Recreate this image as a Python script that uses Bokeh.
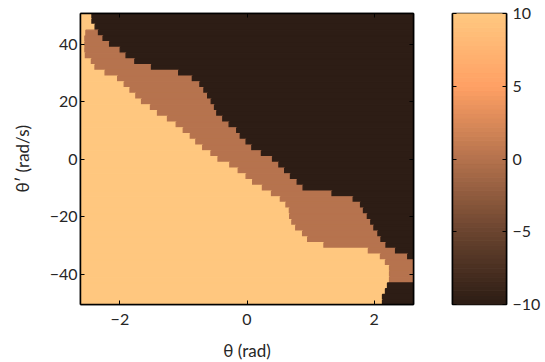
import numpy as np
from bokeh.plotting import figure
from bokeh.layouts import row
from bokeh.models import (ColumnDataSource, LinearColorMapper, LinearAxis,
                          FixedTicker, Range1d)
from bokeh.transform import transform
from bokeh.embed import file_html
from bokeh.resources import INLINE

# ---- data ----
theta_min, theta_max = -2.62, 2.62
omega_min, omega_max = -50.5, 50.8
row_step = 2.0

omega_rows = [50, 48, 46, 44, 42, 40, 38, 36, 34, 32, 30, 28, 26, 24, 22, 20,
              18, 16, 14, 12, 10, 8, 6, 4, 2, 0, -2, -4, -6, -8, -10, -12,
              -14, -16, -18, -20, -22, -24, -26, -28, -30, -32, -34, -36,
              -38, -40, -42, -44, -46, -48, -50]

# theta where the light (+10) region ends on each row
theta_light_end = [-2.44, -2.44, -2.39, -2.535, -2.551, -2.551, -2.551, -2.543,
                   -2.448, -2.392, -2.233, -2.035, -1.932, -1.841, -1.749, -1.659,
                   -1.519, -1.408, -1.251, -1.114, -1.003, -0.892, -0.805, -0.697,
                   -0.567, -0.456, -0.270, -0.138, -0.014, 0.089, 0.243, 0.386,
                   0.525, 0.613, 0.667, 0.671, 0.706, 0.767, 0.875, 0.954,
                   1.211, 1.910, 2.100, 2.179, 2.243, 2.243, 2.243, 2.211,
                   2.179, 2.132, 2.132]

# theta where the dark (-10) region starts on each row
theta_dark_start = [-2.44, -2.44, -2.39, -2.337, -2.265, -2.162, -1.995, -1.903,
                    -1.765, -1.503, -1.075, -0.860, -0.741, -0.678, -0.619, -0.563,
                    -0.511, -0.475, -0.381, -0.281, -0.162, -0.106, -0.014, 0.076,
                    0.227, 0.402, 0.502, 0.592, 0.684, 0.790, 0.883, 1.338,
                    1.671, 1.787, 1.833, 1.894, 1.948, 1.997, 2.060, 2.108,
                    2.187, 2.338, 2.529, 2.62, 2.62, 2.62, 2.62, 2.211,
                    2.179, 2.132, 2.132]

value_light, value_mid, value_dark = 10, 0, -10
cbar_low, cbar_high = -10, 10
cbar_ticks = [-10, -5, 0, 5, 10]
x_ticks = [-2, 0, 2]
y_ticks = [-40, -20, 0, 20, 40]

# ---- colour map (copper-like) ----
anchors = [(-10, (43, 28, 20)), (-5, (106, 68, 47)), (0, (180, 114, 77)),
           (5, (255, 160, 100)), (10, (255, 200, 128))]
palette = []
n = 64
for i in range(n):
    v = cbar_low + (cbar_high - cbar_low) * (i + 0.5) / n
    for (v0, c0), (v1, c1) in zip(anchors[:-1], anchors[1:]):
        if v0 <= v <= v1:
            t = (v - v0) / (v1 - v0)
            c = tuple(int(round(a + (b - a) * t)) for a, b in zip(c0, c1))
            palette.append("#%02x%02x%02x" % c)
            break
mapper = LinearColorMapper(palette=palette, low=cbar_low, high=cbar_high)

# ---- quads from the row boundaries ----
left, right, bottom, top, val = [], [], [], [], []
for w, xa, xb in zip(omega_rows, theta_light_end, theta_dark_start):
    for l, r, v in ((theta_min, xa, value_light), (xa, xb, value_mid),
                    (xb, theta_max, value_dark)):
        if r > l:
            left.append(l); right.append(r)
            bottom.append(w - row_step / 2); top.append(w + row_step / 2)
            val.append(v)
src = ColumnDataSource(dict(left=left, right=right, bottom=bottom, top=top, val=val))

FONT = "Lato"
FS = "16px"
TXT = "#262626"
TOP, FH, BOT = 13, 291, 56


def minus(t):
    return str(t) if t >= 0 else "\u2212" + str(-t)


def style_axis(ax, ticks, labels=True):
    ax.ticker = FixedTicker(ticks=ticks)
    ax.major_tick_in = 4
    ax.major_tick_out = 0
    ax.minor_tick_line_color = None
    ax.axis_line_color = "black"
    ax.axis_line_width = 1.5
    ax.major_tick_line_color = "black"
    ax.major_label_text_font = FONT
    ax.major_label_text_font_size = FS
    ax.major_label_text_color = TXT
    ax.axis_label_text_font = FONT
    ax.axis_label_text_font_style = "normal"
    ax.axis_label_text_color = TXT
    ax.axis_label_text_font_size = "17px"
    if labels:
        ax.major_label_overrides = {t: minus(t) for t in ticks}
    else:
        ax.major_label_overrides = {t: "" for t in ticks}
        ax.major_label_standoff = 0


p = figure(frame_width=333, frame_height=FH,
           x_range=Range1d(theta_min, theta_max), y_range=Range1d(omega_min, omega_max),
           output_backend="svg", toolbar_location=None,
           min_border_left=80, min_border_top=TOP, min_border_right=20,
           min_border_bottom=BOT)
p.quad(left="left", right="right", bottom="bottom", top="top", source=src,
       fill_color=transform("val", mapper), line_color=transform("val", mapper),
       line_width=1.3)
p.grid.visible = False
p.outline_line_color = "black"
p.outline_line_width = 1.5

style_axis(p.xaxis[0], x_ticks)
style_axis(p.yaxis[0], y_ticks)
p.xaxis[0].axis_label = "θ (rad)"
p.yaxis[0].axis_label = "θ′ (rad/s)"
p.xaxis[0].major_label_standoff = 9
p.yaxis[0].major_label_standoff = 3
p.xaxis[0].axis_label_standoff = 12
p.yaxis[0].axis_label_standoff = 14

ax_top = LinearAxis()
style_axis(ax_top, x_ticks, labels=False)
p.add_layout(ax_top, "above")
ax_right = LinearAxis()
style_axis(ax_right, y_ticks, labels=False)
p.add_layout(ax_right, "right")

# ---- colour bar as its own small figure ----
edges = np.linspace(cbar_low, cbar_high, len(palette) + 1)
cb_src = ColumnDataSource(dict(bottom=edges[:-1], top=edges[1:],
                               color=palette))
p2 = figure(frame_width=54, frame_height=FH,
            x_range=Range1d(0, 1), y_range=Range1d(cbar_low, cbar_high),
            output_backend="svg", toolbar_location=None,
            min_border_left=19, min_border_top=TOP, min_border_right=36,
            min_border_bottom=BOT, x_axis_location=None, y_axis_location=None)
p2.quad(left=0, right=1, bottom="bottom", top="top", source=cb_src,
        fill_color="color", line_color="color", line_width=1.0)
p2.grid.visible = False
p2.outline_line_color = "black"
p2.outline_line_width = 1.5
cb_right = LinearAxis()
style_axis(cb_right, cbar_ticks)
cb_right.major_label_standoff = 6
p2.add_layout(cb_right, "right")
cb_left = LinearAxis()
style_axis(cb_left, cbar_ticks, labels=False)
p2.add_layout(cb_left, "left")

layout = row(p, p2)
open("out.html", "w").write(file_html(layout, INLINE))
